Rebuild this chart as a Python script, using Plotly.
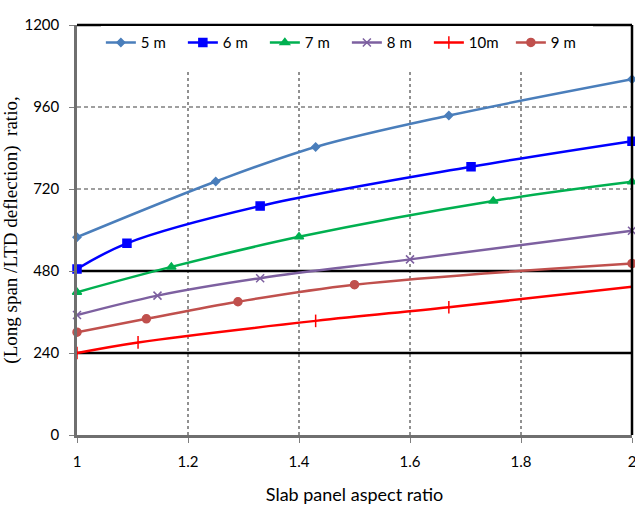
import plotly.graph_objects as go

# Data
x5 = [1, 1.25, 1.43, 1.67, 2]
y5 = [579, 742, 843, 935, 1041]
x6 = [1, 1.09, 1.33, 1.71, 2]
y6 = [486, 561, 670, 785, 860]
x7 = [1, 1.17, 1.4, 1.75, 2]
y7 = [418, 492, 580, 685, 741]
x8 = [1, 1.145, 1.33, 1.6, 2]
y8 = [351, 408, 459, 514, 598]
x10 = [1, 1.11, 1.43, 1.67, 2]
y10 = [240, 271, 334, 374, 434]
x9 = [1, 1.125, 1.29, 1.5, 2]
y9 = [301, 340, 390, 440, 502]

x_ticks = [1, 1.2, 1.4, 1.6, 1.8, 2]
x_tick_labels = ["1", "1.2", "1.4", "1.6", "1.8", "2"]
y_ticks = [0, 240, 480, 720, 960, 1200]

series = [
    ("5 m", x5, y5, "#4A7EBB", "diamond", 6),
    ("6 m", x6, y6, "#0000FF", "square", 8),
    ("7 m", x7, y7, "#00B050", "triangle-up", 8),
    ("8 m", x8, y8, "#7D60A0", "x-thin-open", 8),
    ("10m", x10, y10, "#FF0000", "line-ns-open", 9),
    ("9 m", x9, y9, "#C0504D", "circle", 8),
]

fig = go.Figure()
for name, xs, ys, col, sym, sz in series:
    fig.add_trace(go.Scatter(
        x=xs, y=ys, name=name, mode="lines+markers",
        line=dict(color=col, width=2.5, shape="spline", smoothing=1),
        marker=dict(symbol=sym, size=sz, color=col,
                    line=dict(color=col, width=1.5)),
        cliponaxis=False,
    ))

shapes = []
# vertical dashed gridlines (stop under legend)
for xv in [1.2, 1.4, 1.6, 1.8]:
    shapes.append(dict(type="line", xref="x", yref="y", x0=xv, x1=xv, y0=0, y1=1065,
                       line=dict(color="#222222", width=1, dash="3px,3px"), layer="below"))
# horizontal dashed gridlines
for yv in [720, 960]:
    shapes.append(dict(type="line", xref="x", yref="y", x0=1, x1=2, y0=yv, y1=yv,
                       line=dict(color="#808080", width=1.5, dash="4px,3px"), layer="below"))
# thick black reference lines
for yv in [240, 480]:
    shapes.append(dict(type="line", xref="x", yref="y", x0=1, x1=2, y0=yv, y1=yv,
                       line=dict(color="black", width=2.5), layer="below"))
# top and right border
shapes.append(dict(type="line", xref="paper", yref="paper", x0=0, x1=1, y0=1, y1=1,
                   line=dict(color="black", width=2.5)))
shapes.append(dict(type="line", xref="paper", yref="paper", x0=1, x1=1, y0=0, y1=1,
                   line=dict(color="black", width=2.5)))

fig.update_layout(
    width=635, height=507,
    margin=dict(l=77, r=3, t=25, b=72, autoexpand=False),
    paper_bgcolor="white", plot_bgcolor="white",
    font=dict(family="Lato", size=15, color="black"),
    shapes=shapes,
    legend=dict(orientation="h", x=0.043, y=0.997, xanchor="left", yanchor="top",
                bgcolor="white", font=dict(family="Lato", size=15),
                itemwidth=30, entrywidth=37, tracegroupgap=0),
    xaxis=dict(range=[1, 2], tickvals=x_ticks, ticktext=x_tick_labels,
               showgrid=False, zeroline=False, automargin=False,
               showline=True, linecolor="#6f6f6f", linewidth=2.5,
               ticks="outside", ticklen=5, tickcolor="#7f7f7f",
               ticklabeloverflow="allow", ticklabelstandoff=6,
               tickfont=dict(family="Lato", size=15),
               title=dict(text="Slab panel aspect ratio",
                          font=dict(family="Lato", size=18), standoff=20)),
    yaxis=dict(range=[0, 1200], tickvals=y_ticks,
               showgrid=False, zeroline=False, automargin=False,
               showline=True, linecolor="#6f6f6f", linewidth=2.5,
               ticks="outside", ticklen=5, tickcolor="#7f7f7f",
               ticklabeloverflow="allow", ticklabelstandoff=7,
               tickfont=dict(family="Lato", size=15),
               title=dict(text="(Long span /LTD deflection)  ratio,",
                          font=dict(family="Liberation Serif", size=19), standoff=10)),
)

fig.write_html(
    "out.html",
    config={"displayModeBar": False},
    post_script="document.body.style.margin='0';document.body.style.overflow='hidden';",
)
